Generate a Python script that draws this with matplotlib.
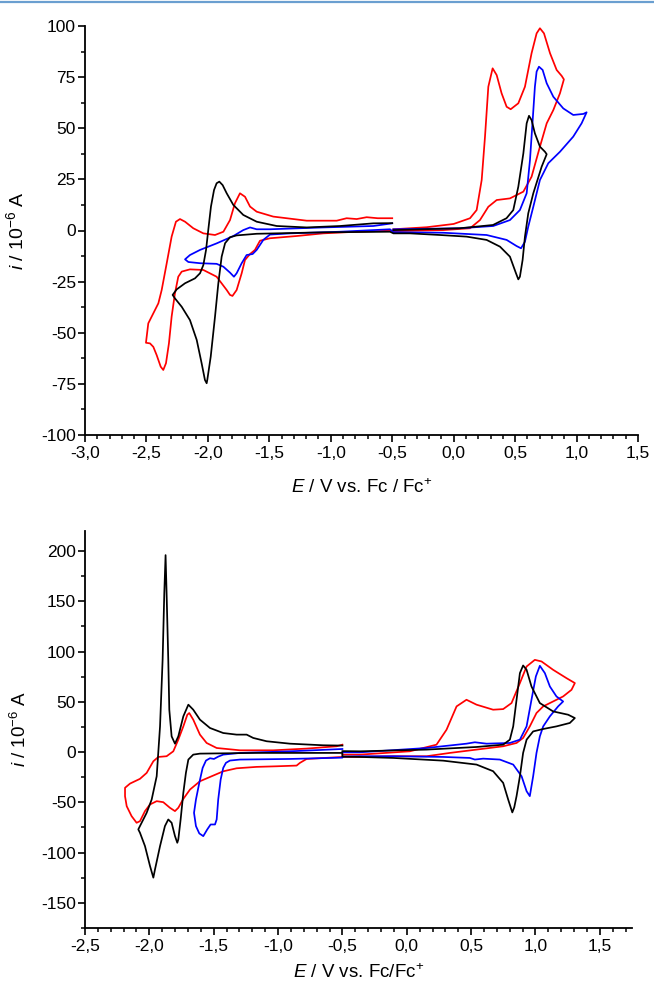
import matplotlib
matplotlib.use("Agg")
import matplotlib.pyplot as plt
from matplotlib.lines import Line2D
from matplotlib.ticker import MultipleLocator, FuncFormatter

plt.rcParams["font.family"] = ["Liberation Sans", "DejaVu Sans"]
plt.rcParams["mathtext.fontset"] = "custom"
plt.rcParams["mathtext.rm"] = "Liberation Sans"
plt.rcParams["mathtext.it"] = "Liberation Sans:italic"
plt.rcParams["axes.unicode_minus"] = False

# ---- top panel: E / V, i / 1e-6 A ----
top_black_E = [-0.49, 0.05, 0.32, 0.43, 0.485, 0.526, 0.567, 0.594, 0.613, 0.634, 0.661, 0.702, 0.743, 0.757,
               0.716, 0.648, 0.607, 0.580, 0.561, 0.539, 0.526, 0.507, 0.458, 0.377, 0.268, 0.106, -0.111, -0.356, -0.49,
               -0.518, -1.061, -1.603, -1.766, -1.820, -1.86, -1.888, -1.915, -1.942, -1.977, -2.005, -2.010, -2.024,
               -2.051, -2.091, -2.146, -2.213, -2.268, -2.287,
               -2.254, -2.186, -2.105, -2.064, -2.037, -2.015, -1.997, -1.975, -1.950, -1.929, -1.907, -1.880, -1.847,
               -1.793, -1.712, -1.603, -1.440, -1.196, -0.925, -0.654, -0.5]
top_black_i = [0.2, 1.1, 2.7, 6.0, 10.0, 21.4, 37.7, 52.4, 56.1, 54.0, 47.5, 41.0, 38.5, 37.3,
               31.2, 18.2, 8.4, -3.0, -14.4, -22.6, -23.9, -20.9, -12.8, -7.9, -4.6, -3.0, -2.2, -1.4, -1.4,
               -0.6, -0.9, -1.6, -2.4, -3.3, -6.2, -12.8, -25.8, -42.1, -61.7, -73.1, -74.7, -73.1,
               -64.9, -53.5, -43.8, -37.3, -33.2, -31.5,
               -28.8, -25.8, -23.4, -20.9, -16.9, -9.5, 0.2, 11.7, 19.8, 23.1, 23.9, 22.2, 18.2,
               12.5, 7.6, 4.3, 2.2, 1.5, 2.2, 3.5, 3.6]

top_red_E = [-0.491, -0.22, 0.0, 0.133, 0.187, 0.228, 0.255, 0.282, 0.317, 0.350, 0.390, 0.431, 0.464, 0.526,
             0.580, 0.634, 0.675, 0.702, 0.735, 0.784, 0.838, 0.879, 0.897,
             0.865, 0.811, 0.757, 0.702, 0.634, 0.567, 0.458, 0.350, 0.282, 0.214, 0.133, -0.084, -0.491,
             -0.518, -0.789, -1.061, -1.278, -1.495, -1.576, -1.617, -1.657, -1.698, -1.725, -1.766, -1.800,
             -1.820, -1.847, -1.929, -2.037, -2.146, -2.213, -2.241, -2.268, -2.295, -2.317, -2.341, -2.363,
             -2.384, -2.417, -2.444, -2.471, -2.504,
             -2.485, -2.444, -2.403, -2.376, -2.335, -2.295, -2.260, -2.227, -2.186, -2.119, -2.037, -1.942,
             -1.874, -1.820, -1.780, -1.739, -1.698, -1.657, -1.603, -1.468, -1.196, -0.952, -0.871, -0.789,
             -0.708, -0.618, -0.5]
top_red_i = [0.6, 1.6, 3.2, 6.0, 10.0, 24.7, 45.9, 70.3, 79.3, 76.0, 67.1, 60.5, 59.3, 62.2,
             70.3, 86.7, 96.4, 98.9, 96.4, 86.7, 78.5, 75.6, 73.9,
             67.1, 58.9, 52.4, 41.0, 26.3, 19.0, 15.7, 14.9, 11.6, 5.1, 1.1, 0.2, -0.3,
             -0.1, -0.6, -1.4, -2.7, -3.8, -5.0, -9.5, -11.5, -14.4, -20.9, -29.1, -32.0,
             -31.5, -29.1, -22.6, -19.3, -19.0, -20.1, -22.6, -30.7, -42.1, -55.2, -64.9, -68.2,
             -66.6, -60.9, -56.9, -55.2, -54.9,
             -45.4, -40.5, -35.6, -29.1, -16.0, -3.0, 4.3, 5.6, 4.3, 1.1, -1.4, -2.2,
             -0.6, 5.1, 13.3, 18.2, 16.5, 11.7, 9.2, 6.8, 4.8, 4.8, 6.0, 5.6,
             6.5, 6.0, 6.0]

top_blue_E = [-0.491, 0.051, 0.322, 0.458, 0.539, 0.594, 0.621, 0.643, 0.661, 0.675, 0.694, 0.724, 0.757,
              0.811, 0.892, 0.973, 1.055, 1.082,
              1.041, 0.973, 0.865, 0.770, 0.702, 0.648, 0.607, 0.580, 0.548, 0.512, 0.431, 0.268, -0.084, -0.491,
              -0.518, -0.925, -1.332, -1.495, -1.549, -1.603, -1.636, -1.685, -1.725, -1.766, -1.788, -1.820,
              -1.874, -1.929, -2.064, -2.159, -2.186,
              -2.146, -2.064, -1.929, -1.793, -1.712, -1.657, -1.603, -1.495, -1.061, -0.654, -0.5]
top_blue_i = [0.6, 1.1, 2.2, 5.1, 10.0, 18.2, 34.5, 54.0, 70.3, 77.7, 80.1, 78.5, 72.0,
              65.4, 59.7, 56.5, 57.0, 57.8,
              52.4, 45.9, 38.5, 32.9, 24.7, 11.6, 1.9, -5.5, -8.7, -7.6, -4.6, -2.2, -1.1, -0.8,
              0.6, -0.6, -1.4, -2.0, -4.6, -9.5, -11.5, -12.0, -16.0, -20.9, -22.6, -20.6,
              -17.7, -16.3, -16.0, -15.4, -14.1,
              -12.0, -9.5, -6.3, -2.7, 0.2, 1.5, 0.6, 0.6, 1.5, 2.2, 3.5]

# ---- bottom panel ----
bot_black_E = [-0.5, -0.364, 0.154, 0.542, 0.749, 0.801, 0.827, 0.853, 0.879, 0.904, 0.931, 0.969, 1.034,
               1.137, 1.254, 1.306,
               1.267, 1.163, 1.060, 0.982, 0.931, 0.904, 0.879, 0.853, 0.835, 0.820, 0.805, 0.788, 0.749, 0.671,
               0.542, 0.283, -0.105, -0.364, -0.5,
               -0.5, -1.167, -1.607, -1.659, -1.697, -1.716, -1.736, -1.757, -1.775, -1.783, -1.801, -1.827,
               -1.853, -1.879, -1.917, -1.956, -1.969, -1.995, -2.034, -2.073, -2.086,
               -2.060, -2.021, -1.982, -1.943, -1.917, -1.897, -1.884, -1.874, -1.866, -1.853, -1.845, -1.827,
               -1.801, -1.775, -1.736, -1.697, -1.659, -1.607, -1.529, -1.426, -1.322, -1.244, -1.193, -1.089,
               -0.908, -0.649, -0.5]
bot_black_i = [1.0, 0.8, 2.5, 5.1, 7.4, 12.4, 25.6, 52.1, 78.6, 86.2, 81.9, 65.3, 48.8,
               40.5, 37.2, 33.9,
               29.0, 25.6, 23.0, 20.6, 12.4, -0.8, -24.0, -43.8, -55.0, -60.0, -54.0, -47.2, -30.6, -19.0,
               -12.4, -8.5, -5.8, -4.8, -4.5,
               -0.8, -0.8, -1.5, -2.5, -7.4, -20.7, -40.5, -67.0, -86.9, -90.2, -83.5, -70.3,
               -67.0, -73.6, -93.5, -116.6, -124.9, -113.3, -93.5, -80.2, -76.9,
               -70.3, -60.4, -47.2, -24.0, 25.6, 91.8, 158.0, 196.0, 158.0, 91.8, 42.2, 15.7,
               8.4, 15.7, 35.6, 47.2, 42.2, 32.3, 24.0, 19.0, 17.4, 17.4, 14.1, 10.8,
               8.4, 6.8, 6.5]

bot_red_E = [-0.5, -0.364, 0.024, 0.231, 0.309, 0.387, 0.464, 0.542, 0.671, 0.749, 0.814, 0.879, 0.931, 0.995,
             1.047, 1.137, 1.241, 1.306,
             1.280, 1.215, 1.137, 1.060, 1.008, 0.956, 0.904, 0.853, 0.749, 0.542, 0.335, 0.154, -0.105, -0.364,
             -0.5, -0.778, -0.830, -0.856, -1.011, -1.167, -1.322, -1.426, -1.503, -1.607, -1.684, -1.736,
             -1.775, -1.801, -1.840, -1.892, -1.943, -1.995, -2.034, -2.073, -2.099, -2.138, -2.176, -2.189,
             -2.189,
             -2.150, -2.073, -2.021, -1.969, -1.930, -1.866, -1.814, -1.775, -1.736, -1.705, -1.690, -1.659,
             -1.607, -1.555, -1.477, -1.296, -1.037, -0.778, -0.545, -0.5]
bot_red_i = [-2.5, -2.5, 0.8, 7.4, 22.3, 45.5, 52.1, 47.2, 42.2, 42.8, 48.8, 68.7, 85.2, 91.8,
             90.2, 81.9, 73.6, 68.7,
             62.0, 55.4, 50.4, 45.5, 38.9, 25.6, 14.1, 9.1, 5.8, 2.5, -0.8, -4.1, -4.1, -4.8,
             -4.8, -6.8, -10.7, -13.4, -14.1, -14.7, -16.1, -19.1, -23.3, -29.0, -37.2, -46.5,
             -55.4, -58.7, -55.4, -49.8, -48.8, -52.1, -58.7, -68.7, -70.3, -63.7, -53.8, -43.9,
             -35.5,
             -31.3, -26.6, -20.7, -9.1, -4.8, -4.1, 0.8, 12.4, 25.6, 37.2, 38.9, 32.3,
             17.4, 9.1, 4.1, 1.8, 1.8, 3.5, 5.8, 7.4]

bot_blue_E = [-0.5, -0.364, 0.154, 0.464, 0.529, 0.620, 0.801, 0.879, 0.931, 0.969, 1.003, 1.034, 1.073,
              1.112, 1.163, 1.215,
              1.176, 1.112, 1.060, 1.034, 1.008, 0.982, 0.956, 0.931, 0.892, 0.827, 0.723, 0.594, 0.529, 0.490,
              0.283, -0.105, -0.364, -0.5,
              -0.5, -0.908, -1.296, -1.374, -1.405, -1.426, -1.446, -1.465, -1.477, -1.490, -1.524, -1.550,
              -1.581, -1.612, -1.638, -1.653,
              -1.638, -1.612, -1.586, -1.560, -1.529, -1.498, -1.465, -1.426, -1.296, -0.908, -0.5]
bot_blue_i = [-0.2, -0.2, 4.1, 8.4, 9.8, 8.4, 9.1, 12.4, 25.6, 52.1, 75.3, 85.9, 78.6,
              65.3, 55.4, 50.4,
              45.5, 35.6, 25.6, 15.7, -0.8, -24.0, -43.8, -38.9, -24.0, -12.4, -7.4, -6.5, -7.4, -5.8,
              -4.8, -4.1, -4.1, -4.5,
              -5.5, -6.8, -7.4, -8.4, -10.7, -15.7, -27.3, -47.2, -67.0, -72.0, -72.0, -76.9,
              -83.6, -80.9, -73.6, -60.4,
              -47.2, -30.6, -15.7, -8.4, -6.1, -6.8, -4.5, -2.5, -0.8, 0.8, 3.1]

top_curves = [(top_red_E, top_red_i, "#ff0000"), (top_blue_E, top_blue_i, "#0000ff"),
              (top_black_E, top_black_i, "#000000")]
bot_curves = [(bot_red_E, bot_red_i, "#ff0000"), (bot_blue_E, bot_blue_i, "#0000ff"),
              (bot_black_E, bot_black_i, "#000000")]


def comma(v, _):
    return f"{v:.1f}".replace(".", ",")


def style_axes(ax):
    for side in ("top", "right"):
        ax.spines[side].set_visible(False)
    for side in ("left", "bottom"):
        ax.spines[side].set_linewidth(1.3)
    ax.tick_params(which="major", direction="out", length=5, width=1.2, labelsize=12.5, pad=1.5)
    ax.tick_params(which="minor", direction="out", length=2.8, width=1.1)
    ax.tick_params(axis="x", which="major", pad=3)
    ax.xaxis.set_major_locator(MultipleLocator(0.5))
    ax.xaxis.set_minor_locator(MultipleLocator(0.1))
    ax.xaxis.set_major_formatter(FuncFormatter(comma))


fig = plt.figure(figsize=(6.54, 9.90), dpi=100)

# thin header rule at the top of the page
fig.add_artist(Line2D([0, 1], [1 - 2 / 990, 1 - 2 / 990], color="#6a9fd0", lw=1.6))

ax1 = fig.add_axes([85 / 654, 1 - 435 / 990, 553 / 654, 409 / 990])
for E, i, c in top_curves:
    ax1.plot(E, i, color=c, lw=1.25, solid_joinstyle="round")
ax1.set_xlim(-3.0, 1.5)
ax1.set_ylim(-100, 100)
style_axes(ax1)
ax1.yaxis.set_major_locator(MultipleLocator(25))
ax1.yaxis.set_minor_locator(MultipleLocator(12.5))
ax1.set_xlabel(r"$\it{E}$ / V vs. Fc / Fc$^{+}$", fontsize=13.5)
ax1.set_ylabel(r"$\it{i}$ / 10$^{-6}$ A", fontsize=14)
ax1.xaxis.set_label_coords(0.5, -0.105)
ax1.yaxis.set_label_coords(-0.105, 0.5)

ax2 = fig.add_axes([85 / 654, 1 - 928 / 990, 547 / 654, 397 / 990])
for E, i, c in bot_curves:
    ax2.plot(E, i, color=c, lw=1.25, solid_joinstyle="round")
ax2.set_xlim(-2.5, 1.75)
ax2.set_ylim(-175, 220)
style_axes(ax2)
ax2.yaxis.set_major_locator(MultipleLocator(50))
ax2.yaxis.set_minor_locator(MultipleLocator(25))
ax2.set_xlabel(r"$\it{E}$ / V vs. Fc/Fc$^{+}$", fontsize=13.5)
ax2.set_ylabel(r"$\it{i}$ / 10$^{-6}$ A", fontsize=13.5)
ax2.xaxis.set_label_coords(0.5, -0.09)
ax2.yaxis.set_label_coords(-0.1, 0.5)

fig.savefig("out.png", dpi=100)
